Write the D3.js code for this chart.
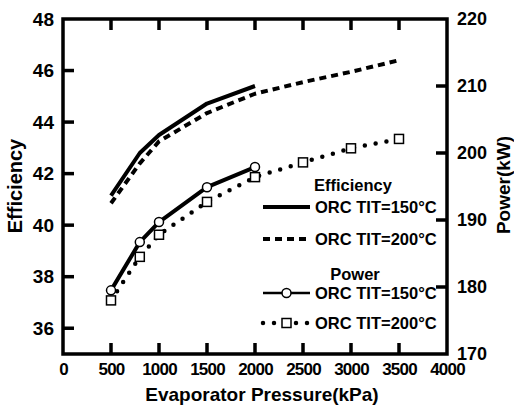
<!DOCTYPE html>
<html>
<head>
<meta charset="utf-8">
<script src="https://cdn.jsdelivr.net/npm/d3@7"></script>
<style>
  html, body { margin: 0; padding: 0; background: #fff; }
  svg { display: block; }
  text { font-family: "Liberation Sans", Arial, Helvetica, sans-serif; font-weight: bold; fill: #000; }
</style>
</head>
<body>
<svg id="chart" width="514" height="411"></svg>
<script>
// ---- Data ----
const pressure150 = [500, 800, 1000, 1500, 2000];
const pressure200 = [500, 800, 1000, 1500, 2000, 2500, 3000, 3500];
const eff150   = [41.15, 42.8, 43.5, 44.72, 45.4];
const eff200   = [40.85, 42.4, 43.25, 44.35, 45.1, 45.55, 45.95, 46.4];
const power150 = [179.5, 186.7, 189.7, 194.9, 197.9];
const power200 = [178.0, 184.5, 187.8, 192.7, 196.4, 198.6, 200.7, 202.1];

const xTicks = [0, 500, 1000, 1500, 2000, 2500, 3000, 3500, 4000];
const yLeftTicks = [36, 38, 40, 42, 44, 46, 48];
const yRightTicks = [170, 180, 190, 200, 210, 220];

const legendHeaders = ["Efficiency", "Power"];
const legendLabels = ["ORC TIT=150°C", "ORC TIT=200°C", "ORC TIT=150°C", "ORC TIT=200°C"];

// ---- Layout ----
const svg = d3.select("#chart");
const L = 63, R = 447, T = 19, B = 354;

const x = d3.scaleLinear().domain([0, 4000]).range([L, R]);
const yL = d3.scaleLinear().domain([35, 48]).range([B, T]);
const yR = d3.scaleLinear().domain([170, 220]).range([B, T]);

const tickLen = 11, tickW = 3.5, axisW = 3.5;
const fmt = d3.format("d");

// Axes (labels from d3 axes; tick marks drawn explicitly inward)
const gB = svg.append("g").attr("transform", `translate(0,${B})`)
  .call(d3.axisBottom(x).tickValues(xTicks).tickFormat(fmt).tickSize(0).tickPadding(9));
const gL = svg.append("g").attr("transform", `translate(${L},0)`)
  .call(d3.axisLeft(yL).tickValues(yLeftTicks).tickFormat(fmt).tickSize(0).tickPadding(9));
const gR = svg.append("g").attr("transform", `translate(${R},0)`)
  .call(d3.axisRight(yR).tickValues(yRightTicks).tickFormat(fmt).tickSize(0).tickPadding(10));

[gB, gL, gR].forEach(g => {
  g.select(".domain").remove();
  g.selectAll(".tick text").attr("fill", "#000")
    .attr("font-family", "Liberation Sans, Arial, sans-serif").attr("font-weight", "bold");
});
gB.selectAll(".tick text").attr("font-size", 17).attr("letter-spacing", "-0.8px");
gL.selectAll(".tick text").attr("font-size", 19);
gR.selectAll(".tick text").attr("font-size", 18);

// Frame
svg.append("rect").attr("x", L).attr("y", T).attr("width", R - L).attr("height", B - T)
  .attr("fill", "none").attr("stroke", "#000").attr("stroke-width", axisW);

// Inward tick marks (filled rects)
const ticksG = svg.append("g").attr("fill", "#000");
const innerX = xTicks.filter(v => v > 0 && v < 4000);
ticksG.selectAll("rect.bt").data(innerX).join("rect").attr("class", "bt")
  .attr("x", d => x(d) - tickW / 2).attr("y", B - tickLen).attr("width", tickW).attr("height", tickLen);
ticksG.selectAll("rect.tt").data(innerX).join("rect").attr("class", "tt")
  .attr("x", d => x(d) - tickW / 2).attr("y", T).attr("width", tickW).attr("height", tickLen);
ticksG.selectAll("rect.lt").data(yLeftTicks.filter(v => v < 48)).join("rect").attr("class", "lt")
  .attr("x", L).attr("y", d => yL(d) - tickW / 2).attr("width", tickLen).attr("height", tickW);
ticksG.selectAll("rect.rt").data(yRightTicks.filter(v => v > 170 && v < 220)).join("rect").attr("class", "rt")
  .attr("x", R - tickLen).attr("y", d => yR(d) - tickW / 2).attr("width", tickLen).attr("height", tickW);

// Axis titles
svg.append("text").attr("x", 262).attr("y", 401).attr("text-anchor", "middle")
  .attr("font-size", 19).text("Evaporator Pressure(kPa)");
svg.append("text").attr("transform", "translate(22,186) rotate(-90)").attr("text-anchor", "middle")
  .attr("font-size", 20).text("Efficiency");
svg.append("text").attr("transform", "translate(510,185) rotate(-90)").attr("text-anchor", "middle")
  .attr("font-size", 19).text("Power(kW)");

// ---- Series ----
const styles = {
  solid:  { w: 4,   dash: null, cap: "butt" },
  dashed: { w: 4,   dash: "7,5", cap: "butt" },
  dotted: { w: 4.5, dash: "0,11", cap: "round" }
};

function drawLine(xs, ys, yScale, st) {
  const line = d3.line().x((d, i) => x(xs[i])).y(d => yScale(d));
  const p = svg.append("path").datum(ys).attr("d", line)
    .attr("fill", "none").attr("stroke", "#000")
    .attr("stroke-width", st.w).attr("stroke-linecap", st.cap).attr("stroke-linejoin", "round");
  if (st.dash) p.attr("stroke-dasharray", st.dash);
}

drawLine(pressure150, eff150, yL, styles.solid);
drawLine(pressure200, eff200, yL, styles.dashed);
drawLine(pressure150, power150, yR, styles.solid);
drawLine(pressure200, power200, yR, styles.dotted);

// markers
svg.append("g").selectAll("circle").data(power150).join("circle")
  .attr("cx", (d, i) => x(pressure150[i])).attr("cy", d => yR(d)).attr("r", 4.5)
  .attr("fill", "#fff").attr("stroke", "#000").attr("stroke-width", 1.5);

const sq = 9;
svg.append("g").selectAll("rect").data(power200).join("rect")
  .attr("x", (d, i) => x(pressure200[i]) - sq / 2).attr("y", d => yR(d) - sq / 2)
  .attr("width", sq).attr("height", sq)
  .attr("fill", "#fff").attr("stroke", "#000").attr("stroke-width", 1.5);

// ---- Legend ----
const lx0 = 263, lx1 = 310, tx = 315;
svg.append("text").attr("x", 353).attr("y", 191).attr("text-anchor", "middle").attr("font-size", 16.5).text(legendHeaders[0]);
svg.append("text").attr("x", 355).attr("y", 280).attr("text-anchor", "middle").attr("font-size", 16.5).text(legendHeaders[1]);

const rows = [
  { y: 207, st: styles.solid,  mk: null },
  { y: 239, st: styles.dashed, mk: null },
  { y: 293, st: styles.solid,  mk: "circle" },
  { y: 323, st: styles.dotted, mk: "square" }
];
rows.forEach((r, i) => {
  const ln = svg.append("line").attr("x1", lx0).attr("x2", lx1).attr("y1", r.y).attr("y2", r.y)
    .attr("stroke", "#000").attr("stroke-width", r.st.w).attr("stroke-linecap", r.st.cap);
  if (r.st.dash) ln.attr("stroke-dasharray", r.st.dash);
  if (i === 2) ln.attr("stroke-width", 2.5);
  const mx = (lx0 + lx1) / 2;
  if (r.mk === "circle") {
    svg.append("circle").attr("cx", mx).attr("cy", r.y).attr("r", 4.5)
      .attr("fill", "#fff").attr("stroke", "#000").attr("stroke-width", 1.5);
  } else if (r.mk === "square") {
    svg.append("rect").attr("x", mx - sq / 2).attr("y", r.y - sq / 2).attr("width", sq).attr("height", sq)
      .attr("fill", "#fff").attr("stroke", "#000").attr("stroke-width", 1.5);
  }
  svg.append("text").attr("x", tx).attr("y", r.y + 6).attr("font-size", 16.5).text(legendLabels[i]);
});
</script>
</body>
</html>
